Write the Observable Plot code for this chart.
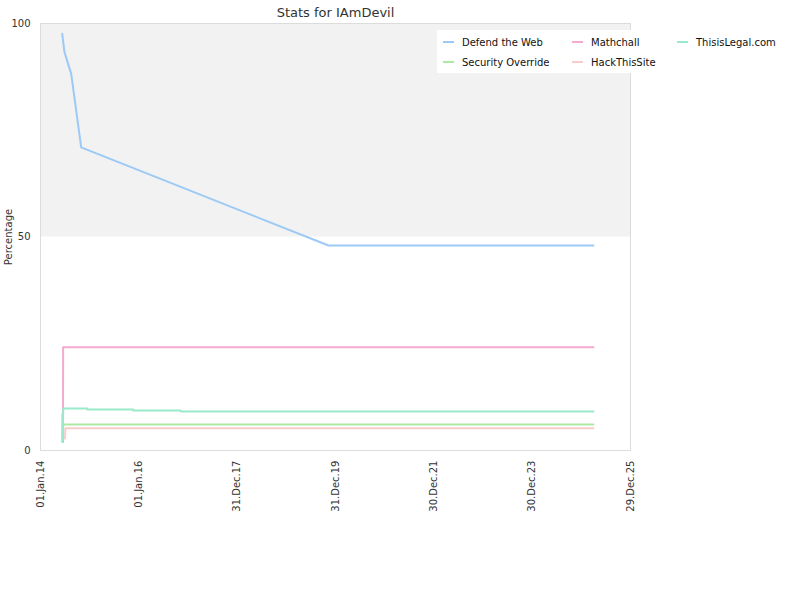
<!DOCTYPE html>
<html>
<head>
<meta charset="utf-8">
<script src="https://cdn.jsdelivr.net/npm/d3@7"></script>
<script src="https://cdn.jsdelivr.net/npm/@observablehq/plot@0.6"></script>
<style>
  html, body { margin: 0; padding: 0; background: white; }
  #chart { width: 800px; height: 600px; }
</style>
</head>
<body>
<div id="chart"></div>
<script>
const chartTitle = "Stats for IAmDevil";
const yLabel = "Percentage";
const seriesNames = ["Defend the Web", "Security Override", "Mathchall", "HackThisSite", "ThisisLegal.com"];
const seriesColors = ["#9cc9f5", "#ade9a5", "#f4a9cf", "#f8cccc", "#99e9cb"];
const xDomain = ["2014-01-01", "2025-12-29"];
const xTickDates = ["2014-01-01", "2016-01-01", "2017-12-31", "2019-12-31", "2021-12-30", "2023-12-30", "2025-12-29"];
const yTicks = [0, 50, 100];

const defendDates = ["2014-06-11", "2014-06-28", "2014-08-17", "2014-10-30", "2019-11-09", "2025-03-29"];
const defendValues = [97.6, 93.3, 88.2, 71.0, 48.0, 48.0];

const securityDates = ["2014-06-14", "2014-06-19", "2025-03-29"];
const securityValues = [2.0, 6.1, 6.1];

const mathchallDates = ["2014-06-13", "2014-06-17", "2014-06-18", "2025-03-29"];
const mathchallValues = [2.0, 2.0, 24.2, 24.2];

const hackDates = ["2014-06-10", "2014-06-11", "2014-06-14", "2014-07-02", "2014-07-04", "2025-03-29"];
const hackValues = [2.5, 8.6, 2.8, 2.8, 5.2, 5.2];

const legalDates = ["2014-06-13", "2014-06-19", "2014-12-14", "2014-12-15", "2015-11-20", "2015-11-21", "2016-11-05", "2016-11-06", "2025-03-29"];
const legalValues = [2.0, 9.84, 9.84, 9.6, 9.6, 9.37, 9.37, 9.15, 9.15];

const seriesDates = [defendDates, securityDates, mathchallDates, hackDates, legalDates];
const seriesValues = [defendValues, securityValues, mathchallValues, hackValues, legalValues];

const parse = d3.utcParse("%Y-%m-%d");
const rows = seriesNames.flatMap((name, i) =>
  seriesDates[i].map((d, j) => ({series: name, date: parse(d), value: seriesValues[i][j]}))
);
const band = [{y1: 50, y2: 100}];

const plot = Plot.plot({
  width: 800,
  height: 600,
  marginLeft: 40,
  marginRight: 170,
  marginTop: 23,
  marginBottom: 150,
  style: {fontFamily: "DejaVu Sans", fontSize: "10px", color: "#333", background: "white", overflow: "visible"},
  x: {
    type: "utc",
    domain: xDomain.map(parse),
    ticks: xTickDates.map(parse),
    tickFormat: d3.utcFormat("%d.%b.%y"),
    tickRotate: -90,
    tickSize: 0,
    tickPadding: 10,
    label: null
  },
  y: {
    domain: [0, 100],
    ticks: yTicks,
    tickSize: 0,
    tickPadding: 10,
    label: yLabel,
    labelAnchor: "center",
    labelArrow: "none",
    labelOffset: 36
  },
  color: {domain: seriesNames, range: seriesColors},
  marks: [
    Plot.rect(band, {y1: "y1", y2: "y2", fill: "#f2f2f2"}),
    Plot.frame({stroke: "#dcdcdc"}),
    Plot.line(rows, {x: "date", y: "value", z: "series", stroke: "series", strokeWidth: 2, curve: "linear"}),
    Plot.text([chartTitle], {frameAnchor: "top", lineAnchor: "middle", dy: -11, fontSize: 13, fill: "#333"})
  ]
});

document.getElementById("chart").appendChild(plot);

// Legend
const svg = d3.select(plot);
const lg = svg.append("g").attr("font-family", "DejaVu Sans").attr("font-size", 10).attr("text-anchor", "start");
lg.append("rect").attr("x", 437).attr("y", 30).attr("width", 355).attr("height", 43).attr("fill", "white");
const legendPos = [[443, 42], [443, 62], [572, 42], [572, 62], [677, 42]];
seriesNames.forEach((name, i) => {
  const [x, y] = legendPos[i];
  lg.append("line").attr("x1", x).attr("x2", x + 11).attr("y1", y).attr("y2", y)
    .attr("stroke", seriesColors[i]).attr("stroke-width", 2);
  lg.append("text").attr("x", x + 19).attr("y", y).attr("dy", "0.35em")
    .attr("text-anchor", "start").attr("fill", "#111").text(name);
});
</script>
</body>
</html>
